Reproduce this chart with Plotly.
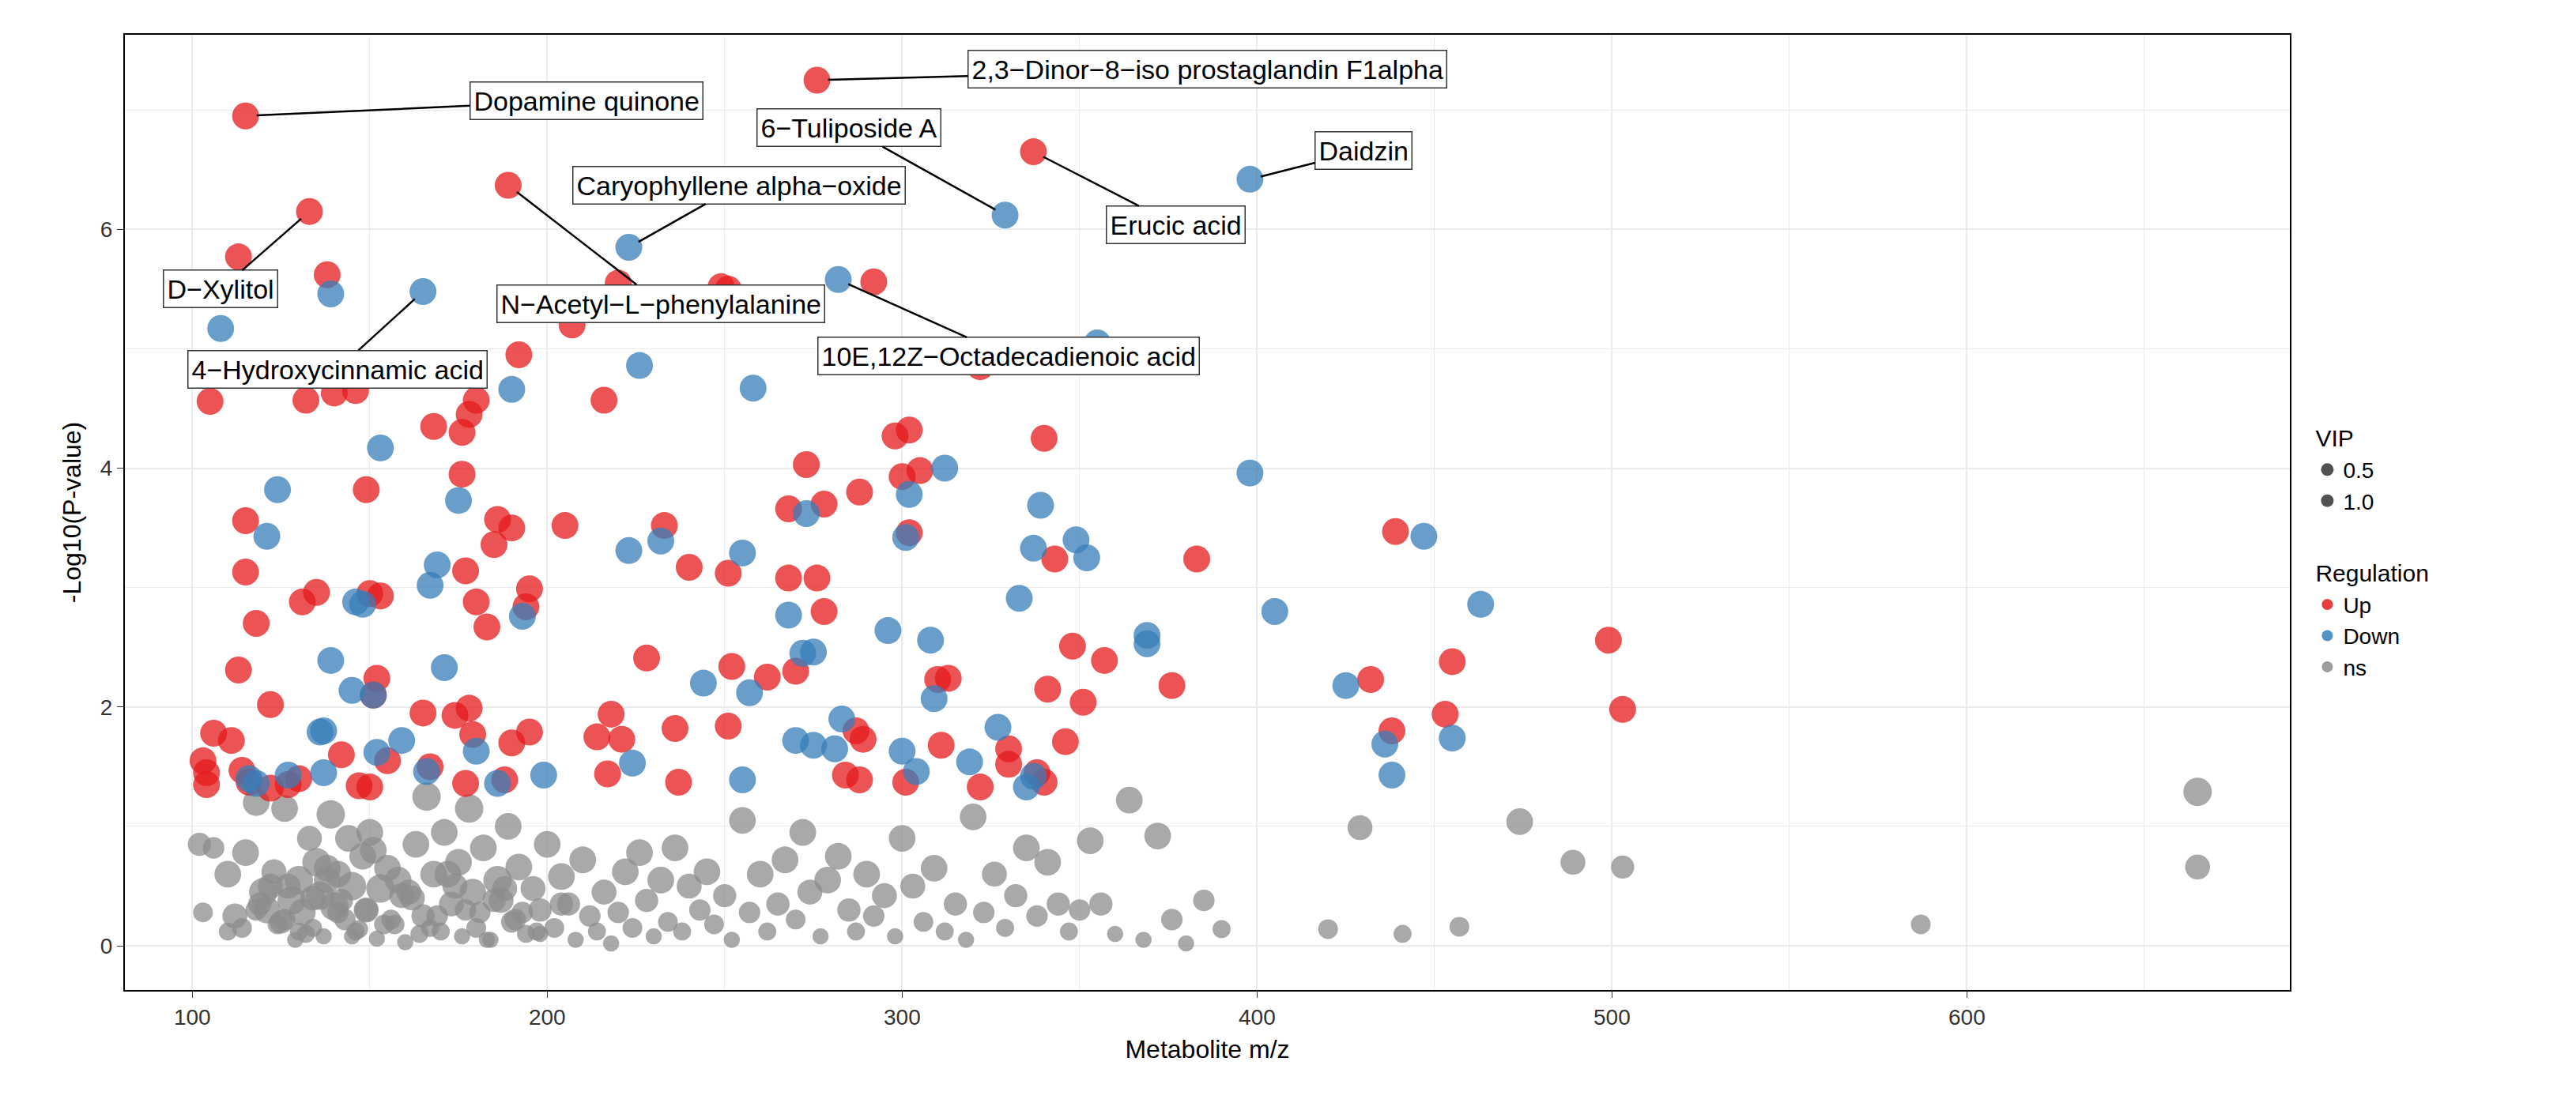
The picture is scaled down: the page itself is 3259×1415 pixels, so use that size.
import plotly.graph_objects as go

# === Data ===
up_mz = [115, 276, 337, 189, 133, 113, 138, 249, 251, 292, 220, 207, 192, 322, 216, 105, 132, 140, 146, 180,
         178, 176, 168, 176, 298, 302, 273, 340, 305, 300, 268, 278, 288, 186, 190, 205, 233, 149, 115, 115,
         185, 177, 439, 383, 343, 302, 240, 251, 268, 276, 195, 194, 180, 183, 135, 131, 150, 153, 118, 348,
         357, 228, 252, 152, 113, 499, 455, 432, 313, 310, 341, 376, 351, 503, 453, 438, 178, 165, 174, 151,
         122, 218, 221, 214, 179, 190, 195, 262, 251, 270, 278, 287, 289, 311, 330, 346, 338, 340, 330, 322,
         301, 288, 284, 236, 237, 217, 103, 104, 104, 106, 111, 114, 116, 122, 127, 130, 142, 147, 150, 155,
         167, 177, 188]
up_p = [6.95, 7.25, 6.65, 6.37, 6.15, 5.77, 5.62, 5.52, 5.5, 5.56, 5.55, 5.2, 4.95, 4.85, 4.57, 4.56, 4.57, 4.63, 4.65, 4.57,
        4.45, 4.3, 4.35, 3.95, 4.27, 4.32, 4.03, 4.25, 3.98, 3.93, 3.66, 3.7, 3.8, 3.57, 3.5, 3.52, 3.52, 3.82, 3.56, 3.13,
        3.36, 3.14, 3.47, 3.24, 3.24, 3.46, 3.17, 3.12, 3.08, 3.08, 2.99, 2.84, 2.88, 2.67, 2.96, 2.88, 2.95, 2.93, 2.7, 2.51,
        2.39, 2.41, 2.34, 2.24, 2.31, 2.56, 2.38, 2.23, 2.24, 2.23, 2.15, 2.18, 2.04, 1.98, 1.94, 1.8, 1.99, 1.95, 1.93, 2.1,
        2.02, 1.94, 1.73, 1.75, 1.77, 1.7, 1.79, 2.25, 1.84, 2.3, 2.8, 1.8, 1.73, 1.68, 1.65, 1.71, 1.45, 1.37, 1.52, 1.33,
        1.37, 1.39, 1.43, 1.82, 1.37, 1.44, 1.55, 1.45, 1.35, 1.78, 1.72, 1.47, 1.37, 1.32, 1.35, 1.4, 1.6, 1.34, 1.33, 1.55,
        1.5, 1.36, 1.39]

down_mz = [329, 398, 223, 282, 139, 165, 108, 355, 226, 190, 258, 153, 398, 124, 312, 121, 175, 339, 302, 301,
           273, 255, 223, 232, 337, 352, 349, 447, 333, 169, 167, 146, 148, 193, 405, 463, 268, 296, 308, 369,
           369, 272, 275, 139, 145, 151, 171, 244, 257, 425, 309, 116, 118, 127, 136, 137, 152, 159, 180, 186,
           199, 255, 224, 270, 275, 281, 283, 300, 304, 319, 327, 335, 337, 436, 438, 455, 166, 137]
down_p = [6.12, 6.42, 5.85, 5.58, 5.46, 5.48, 5.17, 5.05, 4.86, 4.66, 4.67, 4.17, 3.96, 3.82, 4.0, 3.43, 3.73, 3.69, 3.78, 3.42,
          3.62, 3.29, 3.31, 3.39, 3.33, 3.25, 3.4, 3.43, 2.91, 3.19, 3.02, 2.88, 2.86, 2.76, 2.8, 2.86, 2.77, 2.64, 2.56, 2.6,
          2.53, 2.45, 2.46, 2.39, 2.14, 2.1, 2.33, 2.2, 2.12, 2.18, 2.07, 1.4, 1.36, 1.43, 1.79, 1.8, 1.62, 1.72, 1.63, 1.36,
          1.43, 1.39, 1.53, 1.72, 1.68, 1.65, 1.9, 1.63, 1.46, 1.54, 1.83, 1.33, 1.42, 1.69, 1.43, 1.74, 1.46, 1.45]

ns_mz = [102, 103, 106, 110, 112, 115, 118, 120, 121, 123, 125, 126, 128, 129, 130, 131, 133, 134, 135, 136,
         137, 139, 140, 141, 143, 144, 145, 147, 148, 149, 150, 152, 153, 155, 157, 158, 160, 162, 163, 165,
         166, 168, 170, 171, 173, 175, 176, 178, 179, 181, 182, 184, 186, 187, 189, 190, 192, 194, 196, 198,
         200, 202, 204, 206, 208, 210, 212, 214, 216, 218, 220, 222, 224, 226, 228, 230, 232, 234, 236, 238,
         240, 243, 245, 247, 250, 252, 255, 257, 260, 262, 265, 267, 270, 272, 274, 277, 279, 282, 285, 287,
         290, 292, 295, 298, 300, 303, 306, 309, 312, 315, 318, 320, 323, 326, 329, 332, 335, 338, 341, 344,
         347, 350, 353, 356, 360, 364, 368, 372, 376, 380, 385, 390, 420, 429, 441, 457, 474, 489, 503, 587,
         665, 665, 118, 124, 127, 132, 138, 142, 146, 151, 156, 161, 167, 172, 177, 183, 188, 193, 198, 204,
         110, 114, 119, 122, 126, 130, 134, 138, 141, 145, 149, 154, 159, 164, 169, 174, 180, 185, 191, 197]
ns_p = [0.85, 0.28, 0.82, 0.12, 0.25, 0.78, 1.2, 0.45, 0.3, 0.62, 0.2, 1.15, 0.38, 0.05, 0.55, 0.28, 0.9, 0.15, 0.7, 0.42,
        0.08, 1.1, 0.33, 0.6, 0.22, 0.9, 0.5, 0.14, 0.75, 0.3, 0.95, 0.06, 0.48, 0.65, 0.18, 0.55, 0.03, 0.4, 0.85, 0.25,
        1.25, 0.6, 0.12, 0.95, 0.35, 0.7, 0.08, 1.15, 0.45, 0.28, 0.82, 0.05, 0.55, 0.38, 1.0, 0.2, 0.66, 0.1, 0.48, 0.3,
        0.85, 0.15, 0.58, 0.35, 0.05, 0.72, 0.25, 0.12, 0.45, 0.02, 0.28, 0.62, 0.15, 0.78, 0.38, 0.08, 0.55, 0.2, 0.82, 0.12,
        0.5, 0.3, 0.62, 0.18, 0.42, 0.05, 1.05, 0.28, 0.6, 0.12, 0.35, 0.72, 0.22, 0.95, 0.45, 0.08, 0.55, 0.75, 0.3, 0.12,
        0.6, 0.25, 0.42, 0.08, 0.9, 0.5, 0.2, 0.65, 0.12, 0.35, 0.05, 1.08, 0.28, 0.6, 0.15, 0.42, 0.82, 0.25, 0.7, 0.35,
        0.12, 0.3, 0.88, 0.35, 0.1, 1.22, 0.05, 0.92, 0.22, 0.02, 0.38, 0.14, 0.14, 0.99, 0.1, 0.16, 1.04, 0.7, 0.66, 0.18,
        1.29, 0.66, 0.3, 0.18, 0.5, 0.1, 0.65, 0.38, 0.12, 0.8, 0.22, 0.45, 0.15, 0.6, 0.3, 0.05, 0.48, 0.28, 0.1, 0.35,
        0.6, 0.15, 0.35, 0.5, 0.22, 0.12, 0.4, 0.55, 0.28, 0.08, 0.3, 0.18, 0.42, 0.1, 0.25, 0.5, 0.15, 0.38, 0.22, 0.12]
ns_vip = [0.7, 0.5, 0.6, 0.4, 0.8, 0.9, 0.9, 1.0, 0.9, 0.8, 0.7, 0.9, 1.0, 0.3, 1.0, 0.9, 0.8, 0.4, 1.0, 1.0,
          0.3, 1.0, 1.0, 0.9, 0.6, 0.9, 1.0, 0.4, 0.9, 0.8, 0.9, 0.3, 1.0, 0.9, 0.5, 0.9, 0.3, 0.8, 0.9, 0.7,
          1.0, 0.9, 0.4, 0.9, 0.8, 0.9, 0.3, 1.0, 0.9, 0.6, 0.9, 0.3, 1.0, 0.8, 0.9, 0.6, 0.9, 0.4, 0.8, 0.7,
          0.9, 0.5, 0.9, 0.7, 0.3, 0.9, 0.6, 0.4, 0.8, 0.3, 0.6, 0.9, 0.5, 0.9, 0.7, 0.3, 0.9, 0.5, 0.9, 0.4,
          0.8, 0.6, 0.9, 0.5, 0.7, 0.3, 0.9, 0.6, 0.9, 0.4, 0.7, 0.9, 0.5, 0.9, 0.8, 0.3, 0.9, 0.9, 0.7, 0.4,
          0.9, 0.6, 0.8, 0.3, 0.9, 0.8, 0.5, 0.9, 0.4, 0.7, 0.3, 0.9, 0.6, 0.8, 0.4, 0.7, 0.9, 0.6, 0.9, 0.7,
          0.4, 0.6, 0.9, 0.7, 0.3, 0.9, 0.3, 0.9, 0.6, 0.3, 0.6, 0.4, 0.5, 0.8, 0.4, 0.5, 0.9, 0.8, 0.7, 0.5,
          1.0, 0.8, 0.6, 0.5, 0.8, 0.4, 0.9, 0.7, 0.4, 0.9, 0.5, 0.8, 0.4, 0.9, 0.6, 0.3, 0.8, 0.6, 0.3, 0.7,
          0.9, 0.5, 0.7, 0.8, 0.6, 0.4, 0.8, 0.9, 0.6, 0.3, 0.7, 0.5, 0.8, 0.4, 0.6, 0.8, 0.5, 0.7, 0.6, 0.4]

label_names = ["Dopamine quinone", "2,3\u2212Dinor\u22128\u2212iso prostaglandin F1alpha", "6\u2212Tuliposide A",
               "Daidzin", "Erucic acid", "Caryophyllene alpha\u2212oxide", "D\u2212Xylitol",
               "N\u2212Acetyl\u2212L\u2212phenylalanine", "4\u2212Hydroxycinnamic acid",
               "10E,12Z\u2212Octadecadienoic acid"]
label_pt_x = [115, 276, 329, 398, 337, 223, 133, 189, 165, 282]
label_pt_y = [6.95, 7.25, 6.12, 6.42, 6.65, 5.85, 6.15, 6.37, 5.48, 5.58]
label_box_x = [211, 386, 285, 430, 377, 254, 108, 232, 141, 330]
label_box_y = [7.08, 7.34, 6.85, 6.66, 6.04, 6.37, 5.5, 5.38, 4.83, 4.94]


def vip_size(v):
    return 14 + 22 * v


RED, BLUE, GREY = "#E41A1C", "#377EB8", "#8C8C8C"

fig = go.Figure()
fig.add_trace(go.Scatter(x=ns_mz, y=ns_p, mode="markers", showlegend=False,
                         marker=dict(color=GREY, opacity=0.75, size=[vip_size(v) for v in ns_vip], line=dict(width=0))))
fig.add_trace(go.Scatter(x=up_mz, y=up_p, mode="markers", showlegend=False,
                         marker=dict(color=RED, opacity=0.75, size=34, line=dict(width=0))))
fig.add_trace(go.Scatter(x=down_mz, y=down_p, mode="markers", showlegend=False,
                         marker=dict(color=BLUE, opacity=0.75, size=34, line=dict(width=0))))

# legend-only traces
for name, sz in [("0.5", 20), ("1.0", 28)]:
    fig.add_trace(go.Scatter(x=[None], y=[None], mode="markers", name=name, legendgroup="vip",
                             legendgrouptitle_text="VIP",
                             marker=dict(color="#333333", opacity=0.85, size=sz)))
for name, c in [("Up", RED), ("Down", BLUE), ("ns", GREY)]:
    fig.add_trace(go.Scatter(x=[None], y=[None], mode="markers", name=name, legendgroup="reg",
                             legendgrouptitle_text="Regulation",
                             marker=dict(color=c, opacity=0.85, size=14)))

for name, px, py, bx, by in zip(label_names, label_pt_x, label_pt_y, label_box_x, label_box_y):
    fig.add_annotation(x=px, y=py, ax=bx, ay=by, axref="x", ayref="y", text=name,
                       showarrow=True, arrowhead=0, arrowwidth=2.5, arrowcolor="black", standoff=14,
                       font=dict(size=34, color="black"), bgcolor="white", bordercolor="#333333",
                       borderwidth=1.5, borderpad=4)

grid = "#EBEBEB"
fig.update_layout(
    width=3259, height=1415, plot_bgcolor="white", paper_bgcolor="white",
    font=dict(family="Liberation Sans, Arial", size=28, color="black"),
    margin=dict(l=150, r=370, t=36, b=170),
    legend=dict(x=1.01, y=0.6, yanchor="top", tracegroupgap=50, itemsizing="trace",
                font=dict(size=28), grouptitlefont=dict(size=30)),
    xaxis=dict(range=[81, 691], title=dict(text="Metabolite m/z", font=dict(size=32)),
               tickvals=[100, 200, 300, 400, 500, 600], showgrid=True, gridcolor=grid, gridwidth=2,
               minor=dict(tickvals=[150, 250, 350, 450, 550, 650], showgrid=True, gridcolor=grid, gridwidth=1),
               showline=True, linecolor="black", linewidth=2, mirror=True, zeroline=False,
               ticks="outside", ticklen=8, tickcolor="#333333", tickfont=dict(size=28, color="#333333")),
    yaxis=dict(range=[-0.37, 7.63], title=dict(text="-Log10(P-value)", font=dict(size=32)),
               tickvals=[0, 2, 4, 6], showgrid=True, gridcolor=grid, gridwidth=2,
               minor=dict(tickvals=[1, 3, 5, 7], showgrid=True, gridcolor=grid, gridwidth=1),
               showline=True, linecolor="black", linewidth=2, mirror=True, zeroline=False,
               ticks="outside", ticklen=8, tickcolor="#333333", tickfont=dict(size=28, color="#333333")),
)

fig.write_html("out.html")
